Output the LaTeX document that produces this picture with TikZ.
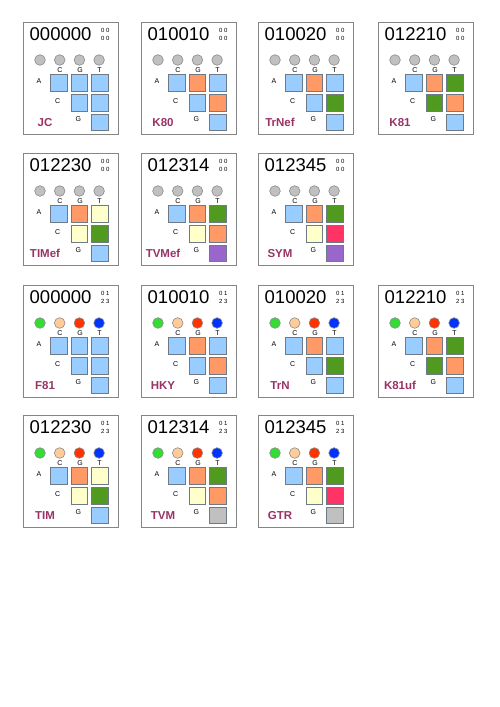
\documentclass[tikz,border=0pt]{standalone}
\usepackage{fontspec}
\setmainfont{Liberation Sans}
\definecolor{sqB}{HTML}{99CCFF}
\definecolor{sqO}{HTML}{FF9966}
\definecolor{sqG}{HTML}{4F9A1F}
\definecolor{sqY}{HTML}{FFFFCC}
\definecolor{sqP}{HTML}{FF3366}
\definecolor{sqV}{HTML}{9966CC}
\definecolor{sqS}{HTML}{C0C0C0}
\definecolor{sqline}{HTML}{6E7A86}
\definecolor{panelgray}{HTML}{858585}
\definecolor{namecol}{HTML}{993366}
\definecolor{dotgray}{HTML}{C0C0C0}
\definecolor{dotline}{HTML}{8A8A8A}
\definecolor{dotG}{HTML}{33DD33}
\definecolor{dotP}{HTML}{FFCC99}
\definecolor{dotR}{HTML}{FF3300}
\definecolor{dotB}{HTML}{0033FF}
\tikzset{
 panelbox/.style={draw=panelgray, line width=1pt},
 bignum/.style={font=\fontsize{18.5}{18.5}\selectfont, inner sep=0pt, anchor=base west},
 tinytxt/.style={font=\fontsize{6}{7.7}\selectfont, inner sep=0pt, anchor=north, align=center},
 lett/.style={font=\fontsize{7}{7}\selectfont, inner sep=0pt, anchor=base},
 mname/.style={font=\bfseries\fontsize{11.5}{11.5}\selectfont, text=namecol, inner sep=0pt, anchor=base},
 sq/.style={draw=sqline, line width=0.8pt, minimum size=16.6pt, inner sep=0pt},
 freqdot/.style={circle, draw=dotline, line width=0.6pt, minimum size=10.6pt, inner sep=0pt},
}
\newcommand\freqeq{\def\circlist{dotgray,dotgray,dotgray,dotgray}\def\smcode{0\hspace{1.5pt}0\\0\hspace{1.5pt}0}}
\newcommand\frequn{\def\circlist{dotG,dotP,dotR,dotB}\def\smcode{0\hspace{1.5pt}1\\2\hspace{1.5pt}3}}
\newcommand\mpanel[5]{\def\pX{#1}\def\pY{#2}\def\pCode{#3}\def\pName{#4}#5\mpanelB}
\newcommand\mpanelB[6]{%
\begin{scope}[shift={(\pX,\pY)}]
 \draw[panelbox] (0,0) rectangle (95,112);
 \node[bignum] (\pName-code) at (6.5,18.7) {\pCode};
 \node[tinytxt] (\pName-f) at (82.3,6) {\smcode};
 \foreach \c [count=\k] in \circlist {\node[freqdot, fill=\c] (\pName-d\k) at ({17+19.7*(\k-1)},38) {};}
 \node[lett] (\pName-lc) at (37,50.5) {C};
 \node[lett] (\pName-lg) at (57,50.5) {G};
 \node[lett] (\pName-lt) at (76.5,50.5) {T};
 \node[lett] (\pName-ra) at (16,61.3) {A};
 \node[lett] (\pName-rc) at (34.7,81.7) {C};
 \node[lett] (\pName-rg) at (55.3,99.3) {G};
 \node[sq, fill=#1] (\pName-ac) at (35.7,60.7) {};
 \node[sq, fill=#2] (\pName-ag) at (56.2,60.7) {};
 \node[sq, fill=#3] (\pName-at) at (76.7,60.7) {};
 \node[sq, fill=#4] (\pName-cg) at (56.2,80.6) {};
 \node[sq, fill=#5] (\pName-ct) at (76.7,80.6) {};
 \node[sq, fill=#6] (\pName-gt) at (76.7,100.3) {};
 \node[mname] (\pName-n) at (22,104.3) {\pName};
\end{scope}}
\begin{document}
\begin{tikzpicture}[x=1pt,y=-1pt]
\useasboundingbox (0,0) rectangle (500,707);
\fill[white] (0,0) rectangle (500,707);
% row 1
\mpanel{23}{22}{000000}{JC}{\freqeq}{sqB}{sqB}{sqB}{sqB}{sqB}{sqB}
\mpanel{141}{22}{010010}{K80}{\freqeq}{sqB}{sqO}{sqB}{sqB}{sqO}{sqB}
\mpanel{258}{22}{010020}{TrNef}{\freqeq}{sqB}{sqO}{sqB}{sqB}{sqG}{sqB}
\mpanel{378}{22}{012210}{K81}{\freqeq}{sqB}{sqO}{sqG}{sqG}{sqO}{sqB}
% row 2
\mpanel{23}{153}{012230}{TIMef}{\freqeq}{sqB}{sqO}{sqY}{sqY}{sqG}{sqB}
\mpanel{141}{153}{012314}{TVMef}{\freqeq}{sqB}{sqO}{sqG}{sqY}{sqO}{sqV}
\mpanel{258}{153}{012345}{SYM}{\freqeq}{sqB}{sqO}{sqG}{sqY}{sqP}{sqV}
% row 3
\mpanel{23}{285}{000000}{F81}{\frequn}{sqB}{sqB}{sqB}{sqB}{sqB}{sqB}
\mpanel{141}{285}{010010}{HKY}{\frequn}{sqB}{sqO}{sqB}{sqB}{sqO}{sqB}
\mpanel{258}{285}{010020}{TrN}{\frequn}{sqB}{sqO}{sqB}{sqB}{sqG}{sqB}
\mpanel{378}{285}{012210}{K81uf}{\frequn}{sqB}{sqO}{sqG}{sqG}{sqO}{sqB}
% row 4
\mpanel{23}{415}{012230}{TIM}{\frequn}{sqB}{sqO}{sqY}{sqY}{sqG}{sqB}
\mpanel{141}{415}{012314}{TVM}{\frequn}{sqB}{sqO}{sqG}{sqY}{sqO}{sqS}
\mpanel{258}{415}{012345}{GTR}{\frequn}{sqB}{sqO}{sqG}{sqY}{sqP}{sqS}
\end{tikzpicture}
\end{document}
